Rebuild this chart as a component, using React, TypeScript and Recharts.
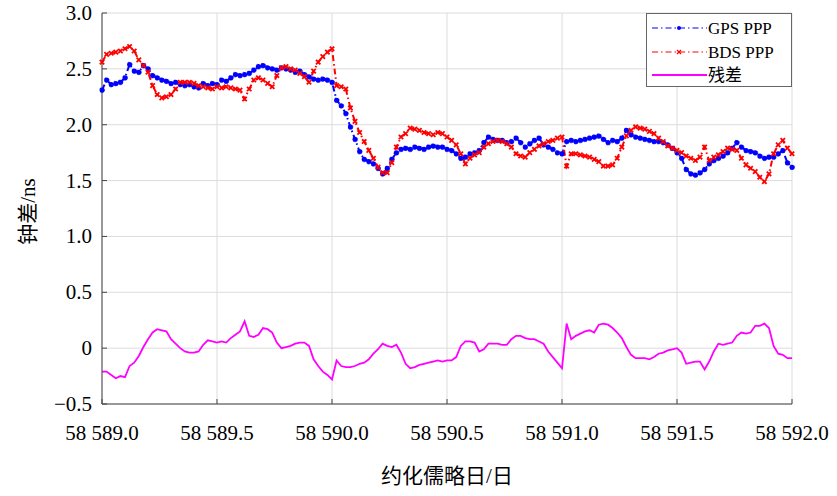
import React from "react";
import { LineChart, Line, XAxis, YAxis, CartesianGrid, Legend } from "recharts";

// sample epochs (MJD), every 0.02 day
const mjd = [
  58589.0, 58589.02, 58589.04, 58589.06, 58589.08, 58589.1, 58589.12, 58589.14, 58589.16, 58589.18,
  58589.2, 58589.22, 58589.24, 58589.26, 58589.28, 58589.3, 58589.32, 58589.34, 58589.36, 58589.38,
  58589.4, 58589.42, 58589.44, 58589.46, 58589.48, 58589.5, 58589.52, 58589.54, 58589.56, 58589.58,
  58589.6, 58589.62, 58589.64, 58589.66, 58589.68, 58589.7, 58589.72, 58589.74, 58589.76, 58589.78,
  58589.8, 58589.82, 58589.84, 58589.86, 58589.88, 58589.9, 58589.92, 58589.94, 58589.96, 58589.98,
  58590.0, 58590.02, 58590.04, 58590.06, 58590.08, 58590.1, 58590.12, 58590.14, 58590.16, 58590.18,
  58590.2, 58590.22, 58590.24, 58590.26, 58590.28, 58590.3, 58590.32, 58590.34, 58590.36, 58590.38,
  58590.4, 58590.42, 58590.44, 58590.46, 58590.48, 58590.5, 58590.52, 58590.54, 58590.56, 58590.58,
  58590.6, 58590.62, 58590.64, 58590.66, 58590.68, 58590.7, 58590.72, 58590.74, 58590.76, 58590.78,
  58590.8, 58590.82, 58590.84, 58590.86, 58590.88, 58590.9, 58590.92, 58590.94, 58590.96, 58590.98,
  58591.0, 58591.02, 58591.04, 58591.06, 58591.08, 58591.1, 58591.12, 58591.14, 58591.16, 58591.18,
  58591.2, 58591.22, 58591.24, 58591.26, 58591.28, 58591.3, 58591.32, 58591.34, 58591.36, 58591.38,
  58591.4, 58591.42, 58591.44, 58591.46, 58591.48, 58591.5, 58591.52, 58591.54, 58591.56, 58591.58,
  58591.6, 58591.62, 58591.64, 58591.66, 58591.68, 58591.7, 58591.72, 58591.74, 58591.76, 58591.78,
  58591.8, 58591.82, 58591.84, 58591.86, 58591.88, 58591.9, 58591.92, 58591.94, 58591.96, 58591.98,
  58592.0,
];

// clock offset, ns
const gpsPpp = [
  2.31, 2.40, 2.36, 2.37, 2.38, 2.42, 2.54, 2.48, 2.47, 2.53,
  2.50, 2.44, 2.42, 2.40, 2.39, 2.37, 2.38, 2.36, 2.35, 2.36,
  2.34, 2.33, 2.37, 2.35, 2.37, 2.36, 2.40, 2.39, 2.42, 2.45,
  2.44, 2.45, 2.46, 2.49, 2.52, 2.53, 2.51, 2.50, 2.49, 2.51,
  2.50, 2.49, 2.47, 2.48, 2.45, 2.43, 2.41, 2.40, 2.41, 2.40,
  2.38, 2.22, 2.17, 2.10, 1.98, 1.87, 1.76, 1.69, 1.67, 1.65,
  1.61, 1.56, 1.61, 1.69, 1.75, 1.78, 1.79, 1.78, 1.80, 1.79,
  1.78, 1.80, 1.81, 1.80, 1.80, 1.78, 1.77, 1.74, 1.70, 1.71,
  1.74, 1.75, 1.77, 1.84, 1.89, 1.87, 1.86, 1.86, 1.84, 1.85,
  1.88, 1.84, 1.80, 1.83, 1.86, 1.88, 1.82, 1.80, 1.78, 1.75,
  1.74, 1.85, 1.86, 1.85, 1.86, 1.87, 1.88, 1.89, 1.90, 1.87,
  1.84, 1.86, 1.85, 1.88, 1.95, 1.91, 1.89, 1.88, 1.87, 1.86,
  1.85, 1.85, 1.84, 1.82, 1.79, 1.75, 1.70, 1.60, 1.56, 1.55,
  1.57, 1.60, 1.65, 1.68, 1.70, 1.72, 1.75, 1.79, 1.84, 1.80,
  1.77, 1.76, 1.75, 1.72, 1.70, 1.71, 1.71, 1.74, 1.77, 1.66,
  1.62,
];

const bdsPpp = [
  2.56, 2.63, 2.64, 2.65, 2.66, 2.68, 2.70, 2.66, 2.58, 2.53,
  2.47, 2.35, 2.27, 2.24, 2.25, 2.27, 2.32, 2.38, 2.38, 2.38,
  2.37, 2.35, 2.34, 2.33, 2.32, 2.34, 2.33, 2.34, 2.33, 2.32,
  2.31, 2.23, 2.32, 2.40, 2.42, 2.40, 2.37, 2.34, 2.44, 2.51,
  2.52, 2.50, 2.49, 2.46, 2.43, 2.38, 2.48, 2.56, 2.61, 2.65,
  2.68, 2.35, 2.34, 2.32, 2.15, 2.03, 1.93, 1.85, 1.77, 1.70,
  1.62, 1.57, 1.57, 1.66, 1.80, 1.89, 1.92, 1.97, 1.96, 1.95,
  1.93, 1.92, 1.91, 1.93, 1.92, 1.89, 1.86, 1.82, 1.74, 1.65,
  1.70, 1.73, 1.75, 1.80, 1.83, 1.85, 1.86, 1.85, 1.83, 1.80,
  1.74, 1.72, 1.71, 1.75, 1.78, 1.81, 1.83, 1.85, 1.86, 1.88,
  1.89, 1.63, 1.74, 1.74, 1.73, 1.72, 1.71, 1.69, 1.67, 1.63,
  1.63, 1.64, 1.70, 1.80, 1.90, 1.95, 1.98, 1.97, 1.96, 1.94,
  1.92, 1.88, 1.85, 1.81, 1.79, 1.77, 1.75, 1.72, 1.70, 1.68,
  1.71, 1.80, 1.68, 1.71, 1.73, 1.76, 1.79, 1.78, 1.77, 1.70,
  1.64, 1.61, 1.58, 1.53, 1.49, 1.56, 1.74, 1.82, 1.86, 1.79,
  1.74,
];

const residual = [
  -0.21, -0.21, -0.24, -0.27, -0.25, -0.26, -0.16, -0.13, -0.07, 0.01,
  0.08, 0.14, 0.17, 0.16, 0.15, 0.08, 0.04, 0.0, -0.03, -0.04,
  -0.04, -0.03, 0.03, 0.07, 0.06, 0.05, 0.06, 0.05, 0.09, 0.12,
  0.15, 0.24, 0.11, 0.10, 0.12, 0.18, 0.17, 0.14, 0.05, 0.0,
  0.01, 0.02, 0.04, 0.05, 0.05, 0.02, -0.10, -0.16, -0.21, -0.24,
  -0.28, -0.11, -0.16, -0.17, -0.17, -0.16, -0.14, -0.13, -0.10, -0.05,
  -0.01, 0.04, 0.02, 0.01, 0.03, -0.04, -0.14, -0.18, -0.17, -0.15,
  -0.14, -0.13, -0.12, -0.11, -0.12, -0.11, -0.11, -0.08, 0.02, 0.06,
  0.06, 0.05, -0.03, -0.01, 0.04, 0.04, 0.04, 0.03, 0.03, 0.08,
  0.11, 0.11, 0.09, 0.08, 0.08, 0.06, 0.04, -0.03, -0.08, -0.13,
  -0.18, 0.22, 0.08, 0.11, 0.13, 0.15, 0.16, 0.14, 0.21, 0.22,
  0.21, 0.18, 0.14, 0.09, 0.01, -0.06, -0.09, -0.09, -0.09, -0.10,
  -0.08, -0.05, -0.04, -0.02, -0.01, 0.0, -0.04, -0.14, -0.13, -0.12,
  -0.12, -0.19, -0.12, -0.03, 0.04, 0.03, 0.04, 0.05, 0.11, 0.14,
  0.13, 0.14, 0.20, 0.20, 0.22, 0.18, 0.02, -0.05, -0.06, -0.09,
  -0.09,
];

const xTicks = [58589.0, 58589.5, 58590.0, 58590.5, 58591.0, 58591.5, 58592.0];
const yTicks = [-0.5, 0, 0.5, 1.0, 1.5, 2.0, 2.5, 3.0];

const data = mjd.map((t, i) => ({
  t,
  gps: gpsPpp[i],
  bds: bdsPpp[i],
  res: residual[i],
}));

const BLUE = "#0000ff";
const RED = "#ff0000";
const MAGENTA = "#ff00ff";
const FRAME = "#444444";
const FONT = "'Liberation Serif', 'Times New Roman', 'Noto Sans CJK SC', serif";
const TICK_LEN = 5;
const textStyle = (size: number): React.CSSProperties => ({
  fontFamily: FONT,
  fontSize: size,
  fill: "#000",
});

const fmtX = (v: number) => `58 ${(v - 58000).toFixed(1)}`;
const fmtY = (v: number) =>
  v === 0 ? "0" : v < 0 ? `\u2212${Math.abs(v).toFixed(1)}` : v.toFixed(1);

// tick renderers: labels outside, tick marks pointing into the plot
const BottomTick = (props: any) => {
  const { x, y, payload } = props;
  return (
    <g>
      <line x1={x} x2={x} y1={y} y2={y - TICK_LEN} stroke={FRAME} />
      <text x={x} y={y + 36} textAnchor="middle" style={textStyle(21)}>
        {fmtX(payload.value)}
      </text>
    </g>
  );
};

const TopTick = (props: any) => {
  const { x, y } = props;
  return <line x1={x} x2={x} y1={y} y2={y + TICK_LEN} stroke={FRAME} />;
};

const LeftTick = (props: any) => {
  const { x, y, payload } = props;
  return (
    <g>
      <line x1={x} x2={x + TICK_LEN} y1={y} y2={y} stroke={FRAME} />
      <text x={x - 10} y={y + 7} textAnchor="end" style={textStyle(21)}>
        {fmtY(payload.value)}
      </text>
    </g>
  );
};

const RightTick = (props: any) => {
  const { x, y } = props;
  return <line x1={x} x2={x - TICK_LEN} y1={y} y2={y} stroke={FRAME} />;
};

const CrossDot = (props: any) => {
  const { cx, cy, key } = props;
  if (cx == null || cy == null) return <g key={key} />;
  const s = 2.2;
  return (
    <path
      key={key}
      d={`M${cx - s},${cy - s}L${cx + s},${cy + s}M${cx - s},${cy + s}L${cx + s},${cy - s}`}
      stroke={RED}
      strokeWidth={1.8}
    />
  );
};

const LegendBox = () => (
  <svg width={146} height={74} style={{ display: "block" }}>
    <rect x={0.5} y={0.5} width={145} height={73} fill="#fff" stroke="#666" />
    <line x1={6} x2={61} y1={15} y2={15} stroke={BLUE} strokeDasharray="6 3 1.5 3" />
    <circle cx={33} cy={15} r={2} fill={BLUE} />
    <text x={62} y={21} style={textStyle(17)}>GPS PPP</text>
    <line x1={6} x2={61} y1={39} y2={39} stroke={RED} strokeDasharray="6 3 1.5 3" />
    <path d="M31,37L35,41M31,41L35,37" stroke={RED} strokeWidth={1.2} />
    <text x={62} y={45} style={textStyle(17)}>BDS PPP</text>
    <line x1={6} x2={61} y1={62} y2={62} stroke={MAGENTA} strokeWidth={2} />
    <text x={62} y={68} style={textStyle(17)}>残差</text>
  </svg>
);

export default function App() {
  return (
    <div style={{ position: "absolute", left: 0, top: 0, background: "#fff" }}>
      <LineChart
        width={837}
        height={496}
        data={data}
        margin={{ top: 13, right: 45, left: 0, bottom: 0 }}
      >
        <CartesianGrid stroke="#dcdcdc" strokeWidth={1} />
        <XAxis
          dataKey="t"
          type="number"
          domain={[58589, 58592]}
          ticks={xTicks}
          height={92}
          tickSize={0}
          tickMargin={0}
          tickLine={false}
          axisLine={{ stroke: FRAME }}
          tick={<BottomTick />}
          interval={0}
          label={{
            content: (p: any) => {
              const vb = p.viewBox;
              return (
                <text
                  x={vb.x + vb.width / 2}
                  y={vb.y + 79}
                  textAnchor="middle"
                  style={textStyle(21)}
                >
                  约化儒略日/日
                </text>
              );
            },
          }}
        />
        <XAxis
          xAxisId="top"
          orientation="top"
          type="number"
          domain={[58589, 58592]}
          ticks={xTicks}
          height={0}
          tickSize={0}
          tickMargin={0}
          tickLine={false}
          axisLine={{ stroke: FRAME }}
          tick={<TopTick />}
          interval={0}
        />
        <YAxis
          type="number"
          domain={[-0.5, 3]}
          ticks={yTicks}
          width={102}
          tickSize={0}
          tickMargin={0}
          tickLine={false}
          axisLine={{ stroke: FRAME }}
          tick={<LeftTick />}
          interval={0}
          label={{
            content: (p: any) => {
              const vb = p.viewBox;
              const cy = vb.y + vb.height / 2 + 3;
              return (
                <text
                  x={28}
                  y={cy}
                  transform={`rotate(-90 28 ${cy})`}
                  textAnchor="middle"
                  dominantBaseline="central"
                  style={textStyle(21)}
                >
                  钟差/ns
                </text>
              );
            },
          }}
        />
        <YAxis
          yAxisId="right"
          orientation="right"
          type="number"
          domain={[-0.5, 3]}
          ticks={yTicks}
          width={0}
          tickSize={0}
          tickMargin={0}
          tickLine={false}
          axisLine={{ stroke: FRAME }}
          tick={<RightTick />}
          interval={0}
        />
        <Line
          dataKey="gps"
          name="GPS PPP"
          stroke={BLUE}
          strokeWidth={2}
          strokeDasharray="6 3 1.5 3"
          dot={{ r: 2.5, fill: BLUE, stroke: BLUE, strokeWidth: 0.6 }}
          isAnimationActive={false}
        />
        <Line
          dataKey="bds"
          name="BDS PPP"
          stroke={RED}
          strokeWidth={2}
          strokeDasharray="6 3 1.5 3"
          dot={CrossDot}
          isAnimationActive={false}
        />
        <Line
          dataKey="res"
          name="残差"
          stroke={MAGENTA}
          strokeWidth={1.8}
          dot={false}
          isAnimationActive={false}
        />
        <Legend
          layout="horizontal"
          verticalAlign="middle"
          align="center"
          content={() => <LegendBox />}
          wrapperStyle={{ left: 646, top: 13, width: 146, height: 74 }}
        />
      </LineChart>
    </div>
  );
}
